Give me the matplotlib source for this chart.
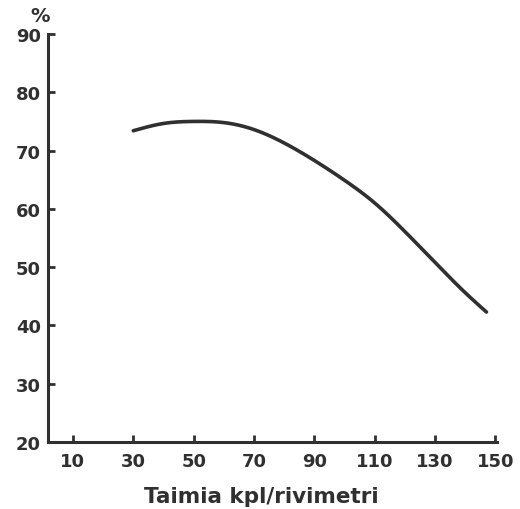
import matplotlib
matplotlib.use("Agg")
import matplotlib.pyplot as plt
import numpy as np

# Data
x_vals = [30, 40, 50, 60, 70, 80, 90, 100, 110, 120, 130, 140, 147]
y_vals = [73.4, 74.65, 75.0, 74.8, 73.6, 71.3, 68.3, 64.9, 61.0, 56.1, 50.8, 45.6, 42.3]
x_ticks = [10, 30, 50, 70, 90, 110, 130, 150]
y_ticks = [20, 30, 40, 50, 60, 70, 80, 90]
x_label = "Taimia kpl/rivimetri"
y_unit = "%"

ink = "#303030"
fam = ["DejaVu Sans"]


def natural_spline(x, y, xs):
    x = np.asarray(x, float)
    y = np.asarray(y, float)
    n = len(x)
    h = np.diff(x)
    A = np.zeros((n, n))
    b = np.zeros(n)
    A[0, 0] = A[-1, -1] = 1
    for i in range(1, n - 1):
        A[i, i - 1] = h[i - 1]
        A[i, i] = 2 * (h[i - 1] + h[i])
        A[i, i + 1] = h[i]
        b[i] = 3 * ((y[i + 1] - y[i]) / h[i] - (y[i] - y[i - 1]) / h[i - 1])
    c = np.linalg.solve(A, b)
    bb = (np.diff(y) / h) - h * (2 * c[:-1] + c[1:]) / 3
    d = np.diff(c) / (3 * h)
    idx = np.clip(np.searchsorted(x, xs) - 1, 0, n - 2)
    t = xs - x[idx]
    return y[idx] + bb[idx] * t + c[idx] * t ** 2 + d[idx] * t ** 3


fig = plt.figure(figsize=(5.2, 5.1), dpi=100)
ax = fig.add_axes([48/520, 1-443/510, (497-48)/520, (443-35)/510])

xs = np.linspace(x_vals[0], x_vals[-1], 400)
ys = natural_spline(x_vals, y_vals, xs)
ax.plot(xs, ys, color=ink, lw=2.6, solid_capstyle="round")

ax.set_xlim(1.75, 150.5)
ax.set_ylim(20, 90)
ax.set_xticks(x_ticks)
ax.set_yticks(y_ticks)
for s in ["top", "right"]:
    ax.spines[s].set_visible(False)
for s in ["left", "bottom"]:
    ax.spines[s].set_linewidth(2.2)
    ax.spines[s].set_color(ink)
ax.tick_params(direction="in", length=5, width=2, color=ink, labelcolor=ink,
               labelsize=13)
ax.tick_params(axis="y", pad=5)
ax.tick_params(axis="x", pad=7)
for lab in ax.get_xticklabels() + ax.get_yticklabels():
    lab.set_fontfamily(fam)
    lab.set_fontweight("bold")
fig.text(261/520, 1-497/510, x_label, fontsize=15.5, fontweight="bold", color=ink,
         family=fam, ha="center", va="center")
fig.text(40/520, 1-17/510, y_unit, fontsize=14, fontweight="bold", color=ink,
         family=fam, ha="center", va="center")

fig.savefig("out.png", dpi=100)
